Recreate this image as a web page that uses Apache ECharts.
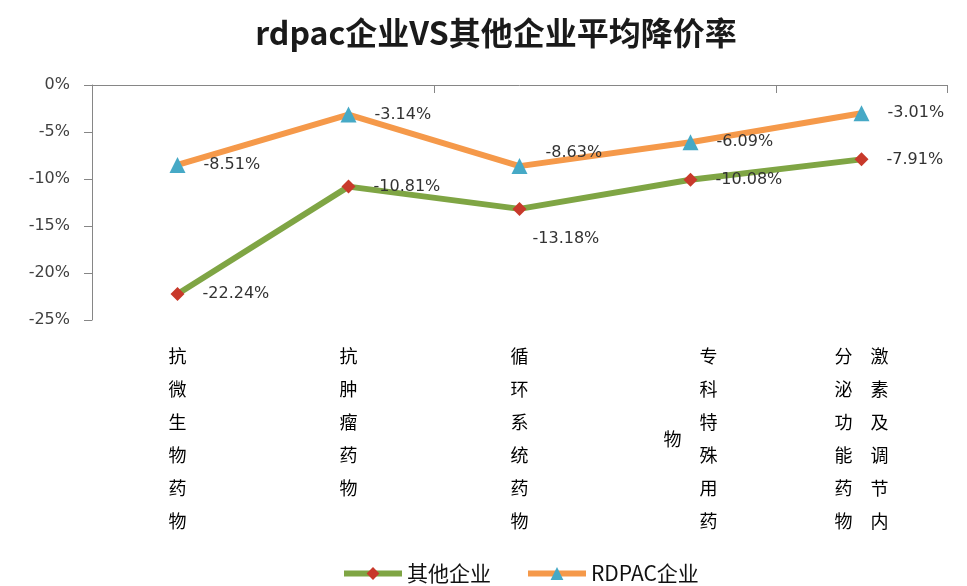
<!DOCTYPE html>
<html>
<head>
<meta charset="utf-8">
<script src="https://cdn.jsdelivr.net/npm/echarts@6/dist/echarts.min.js"></script>
<style>html,body{margin:0;padding:0;background:#fff;}#c{width:967px;height:586px;}</style>
</head>
<body>
<div id="c"></div>
<script>
const titleText = 'rdpac企业VS其他企业平均降价率';
const categories = ['抗微生物药物', '抗肿瘤药物', '循环系统药物', '专科特殊用药物', '激素及调节内分泌功能药物'];
const seriesNames = ['其他企业', 'RDPAC企业'];
const otherValues = [-22.24, -10.81, -13.18, -10.08, -7.91];
const rdpacValues = [-8.51, -3.14, -8.63, -6.09, -3.01];
const yMin = -25, yMax = 0, yStep = 5;

function verticalLabel(name) {
  const per = 6, F = '\u3000';
  const cols = [];
  for (let i = 0; i < name.length; i += per) cols.push(name.slice(i, i + per));
  const lines = [];
  for (let h = 0; h < 2 * per - 1; h++) {
    const parts = [];
    for (let c = cols.length - 1; c >= 0; c--) {
      const col = cols[c];
      const off = c === 0 ? 0 : (cols[0].length - col.length);
      const rel = h - off;
      let ch = F;
      if (rel >= 0 && rel % 2 === 0 && rel / 2 < col.length) ch = col[rel / 2];
      parts.push(ch);
    }
    lines.push(parts.join(F));
  }
  return lines.join('\n');
}

const labelBase = {
  show: true, position: 'right', distance: 18, color: '#333',
  fontFamily: 'DejaVu Sans', fontSize: 16,
  formatter: p => p.value.toFixed(2) + '%'
};
const otherTweaks = {2: {distance: 6, offset: [0, 30]}};
const rdpacTweaks = {2: {offset: [0, -13]}};
function build(values, tweaks) {
  return values.map((v, i) => tweaks[i] ? {value: v, label: tweaks[i]} : v);
}

const chart = echarts.init(document.getElementById('c'), null, {renderer: 'canvas'});
chart.setOption({
  backgroundColor: '#fff',
  animation: false,
  title: {
    text: titleText, left: 491, textAlign: 'center', top: 12,
    textStyle: {fontFamily: 'Noto Sans CJK SC', fontSize: 32, fontWeight: 'bold', color: '#1a1a1a'}
  },
  legend: {
    data: seriesNames, left: 336, top: 558, itemWidth: 58, itemHeight: 16, itemGap: 34,
    lineStyle: {width: 6},
    textStyle: {fontFamily: 'Noto Sans CJK SC', fontSize: 21, color: '#111'}
  },
  grid: {left: 92, right: 20, top: 85, bottom: 266, containLabel: false},
  xAxis: [
    {
      type: 'category', data: categories, position: 'bottom',
      axisLine: {show: false}, axisTick: {show: false},
      axisLabel: {
        interval: 0, margin: 28, formatter: verticalLabel,
        fontFamily: 'Noto Sans CJK SC', fontSize: 18, lineHeight: 16.5, color: '#000'
      }
    },
    {
      type: 'category', data: categories, position: 'top',
      axisLine: {show: true, lineStyle: {color: '#868686', width: 1}},
      axisTick: {show: true, inside: true, length: 8, lineStyle: {color: '#868686'}},
      axisLabel: {show: false}
    }
  ],
  yAxis: {
    type: 'value', min: yMin, max: yMax, interval: yStep,
    axisLine: {show: true, onZero: false, lineStyle: {color: '#868686', width: 1}},
    axisTick: {show: true, length: 8, lineStyle: {color: '#868686'}},
    splitLine: {show: false},
    axisLabel: {formatter: '{value}%', margin: 22, fontFamily: 'DejaVu Sans', fontSize: 16, color: '#404040'}
  },
  series: [
    {
      name: seriesNames[0], type: 'line', xAxisIndex: 0,
      data: build(otherValues, otherTweaks),
      symbol: 'diamond', symbolSize: 14,
      itemStyle: {color: '#c8392b'},
      lineStyle: {color: '#7fa544', width: 6},
      label: labelBase
    },
    {
      name: seriesNames[1], type: 'line', xAxisIndex: 0,
      data: build(rdpacValues, rdpacTweaks),
      symbol: 'triangle', symbolSize: 16,
      itemStyle: {color: '#46a9c6'},
      lineStyle: {color: '#f5994a', width: 6},
      label: labelBase
    }
  ]
});
</script>
</body>
</html>
